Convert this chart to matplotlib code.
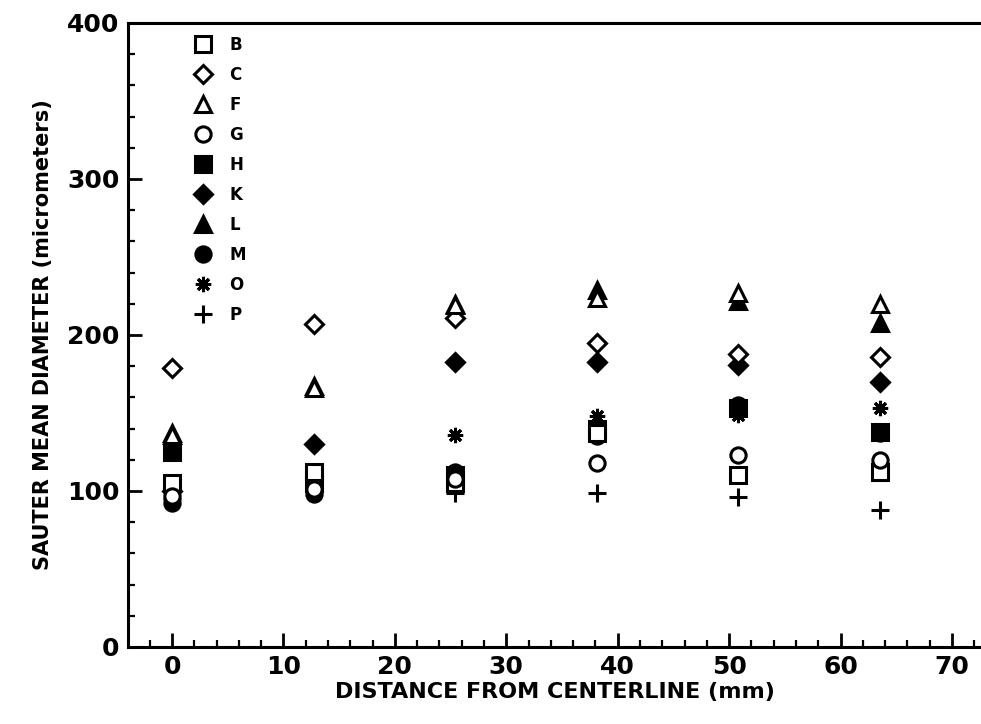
import matplotlib
matplotlib.use('Agg')
import matplotlib.pyplot as plt
from matplotlib.ticker import MultipleLocator

plt.rcParams['font.family'] = ['DejaVu Sans']
plt.rcParams['font.weight'] = 'bold'

# radial positions (mm)
dist = [0.0, 12.7, 25.4, 38.1, 50.8, 63.5]

# Sauter mean diameter (micrometers) per condition
smd_B = [105, 112, 105, 137, 110, 112]
smd_C = [179, 207, 211, 195, 188, 186]
smd_F = [136, 166, 219, 224, 227, 220]
smd_G = [97, 101, 108, 118, 123, 120]
smd_H = [125, 105, 110, 140, 153, 138]
smd_K = [100, 130, 183, 183, 181, 170]
smd_L = [137, 167, 220, 229, 222, 208]
smd_M = [92, 98, 112, 135, 155, 137]
smd_O = [103, 101, 136, 148, 149, 153]
smd_P = [95, 100, 99, 99, 96, 88]

series = [
    ('B', smd_B, 's', False),
    ('C', smd_C, 'D', False),
    ('F', smd_F, '^', False),
    ('G', smd_G, 'o', False),
    ('H', smd_H, 's', True),
    ('K', smd_K, 'D', True),
    ('L', smd_L, '^', True),
    ('M', smd_M, 'o', True),
    ('O', smd_O, (8, 2, 0), True),
    ('P', smd_P, '+', True),
]

fig = plt.figure(figsize=(9.81, 7.24), dpi=100)
ax = fig.add_axes([128 / 981, 1 - 647 / 724, 1 - 128 / 981, (647 - 23) / 724])

for name, vals, mk, filled in series:
    size = 11
    if mk == 'D':
        size = 9
    if mk == '+':
        size = 13
    if filled:
        ax.plot(dist, vals, linestyle='none', marker=mk, color='black',
                mfc='black', mec='black', ms=size, mew=2.2, label=name, zorder=2)
    else:
        ax.plot(dist, vals, linestyle='none', marker=mk, color='black',
                mfc='white', mec='black', ms=size, mew=2.2, label=name, zorder=3)

ax.set_xlim(-3.95, 72.6)
ax.set_ylim(0, 400)
ax.set_xticks([0, 10, 20, 30, 40, 50, 60, 70])
ax.set_yticks([0, 100, 200, 300, 400])
ax.xaxis.set_minor_locator(MultipleLocator(2))
ax.yaxis.set_minor_locator(MultipleLocator(20))
ax.tick_params(which='major', direction='in', length=10, width=2,
               labelsize=18, top=False, right=False, pad=6)
ax.tick_params(which='minor', direction='in', length=5, width=1.6,
               top=False, right=False)
for lab in ax.get_xticklabels() + ax.get_yticklabels():
    lab.set_fontweight('bold')

for side in ['left', 'bottom', 'top']:
    ax.spines[side].set_linewidth(2.2)
ax.spines['right'].set_visible(False)

ax.set_xlabel('DISTANCE FROM CENTERLINE (mm)', fontsize=16, fontweight='bold', labelpad=2)
ax.set_ylabel('SAUTER MEAN DIAMETER (micrometers)', fontsize=15, fontweight='bold', labelpad=10)

leg = ax.legend(loc='upper left', bbox_to_anchor=(0.068, 0.99), frameon=False,
                fontsize=12, labelspacing=0.72, handletextpad=1.0,
                handlelength=1.2, borderaxespad=0)
for t in leg.get_texts():
    t.set_fontweight('bold')

fig.savefig('out.png', dpi=100)
